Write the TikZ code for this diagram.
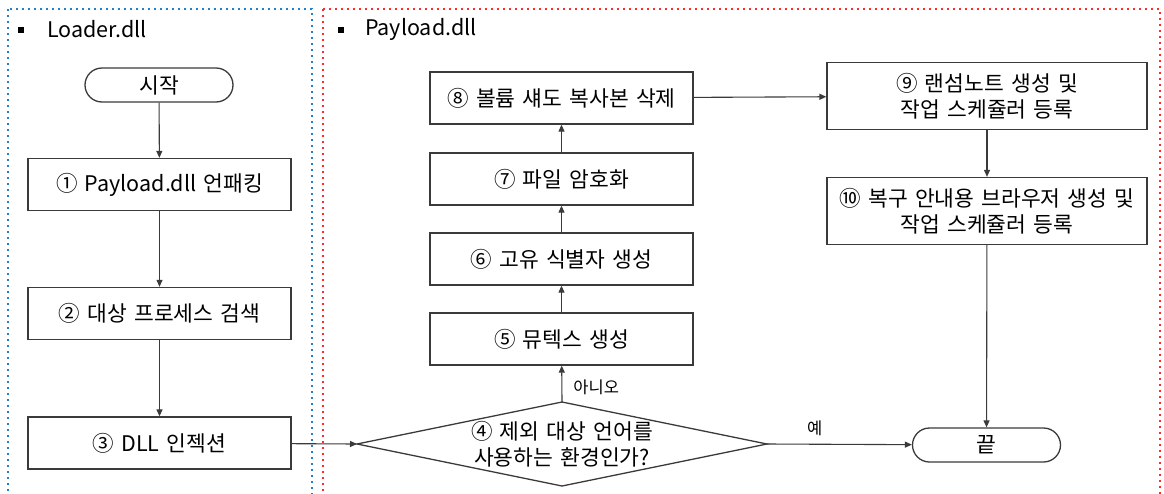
\documentclass[tikz,border=0pt]{standalone}
\usepackage{fontspec}
\setmainfont[WordSpace=1.5]{Noto Sans CJK KR}
\usetikzlibrary{arrows.meta,shapes.misc}
\definecolor{linec}{HTML}{3A3A3A}
\definecolor{dotblue}{HTML}{2080D0}
\definecolor{dotred}{HTML}{FF2A2A}
\begin{document}
\begin{tikzpicture}[x=1pt,y=-1pt,
  stepbox/.style={draw=linec, line width=1.3pt, minimum width=263pt, minimum height=52pt, inner sep=0pt, align=center, font=\fontsize{21.5}{26}\selectfont},
  widebox/.style={stepbox, minimum width=320pt, minimum height=67pt},
  term/.style={rounded rectangle, draw=linec, line width=1.3pt, minimum width=148pt, minimum height=34pt, inner sep=0pt, font=\fontsize{21.5}{26}\selectfont},
  decision/.style={draw=linec, line width=1.3pt},
  dtext/.style={align=center, inner sep=0pt, font=\fontsize{21.5}{26}\selectfont},
  flow/.style={draw=linec, line width=1.1pt, -{Triangle[length=7pt,width=6pt]}},
  lbl/.style={font=\fontsize{16.5}{20}\selectfont, inner sep=0pt},
  header/.style={font=\fontsize{21.5}{26}\selectfont, anchor=west, inner sep=0pt},
  bullet/.style={fill=black, minimum size=6pt, inner sep=0pt},
  dotline/.style={line width=2pt, dash pattern=on 2pt off 4pt}
]
\useasboundingbox (0,0) rectangle (1164,493);
% dotted regions
\draw[dotblue, dotline] (8,9) rectangle (312,505);
\draw[dotred, dotline] (323,9) rectangle (1160,505);
% headers
\node[bullet] (b1) at (21,30) {};
\node[header] (h1) at (47,29) {Loader.dll};
\node[bullet] (b2) at (341,30) {};
\node[header] (h2) at (365,29) {Payload.dll};
% loader column
\node[term] (start) at (159,85) {시작};
\node[stepbox] (s1) at (159.5,184.5) {① Payload.dll 언패킹};
\node[stepbox] (s2) at (159.5,313.5) {② 대상 프로세스 검색};
\node[stepbox] (s3) at (159.5,443) {③ DLL 인젝션};
% decision diamond
\coordinate (d-w) at (357,444);
\coordinate (d-n) at (562,402);
\coordinate (d-e) at (767,444);
\coordinate (d-s) at (562,486);
\draw[decision] (d-w) -- (d-n) -- (d-e) -- (d-s) -- cycle;
\node[dtext] (s4) at (562,444) {④ 제외 대상 언어를\\사용하는 환경인가?};
% payload
\node[stepbox] (s5) at (561.5,339) {⑤ 뮤텍스 생성};
\node[stepbox] (s6) at (561.5,259) {⑥ 고유 식별자 생성};
\node[stepbox] (s7) at (561.5,179) {⑦ 파일 암호화};
\node[stepbox] (s8) at (561.5,98) {⑧ 볼륨 섀도 복사본 삭제};
\node[widebox] (s9) at (987,96) {⑨ 랜섬노트 생성 및\\작업 스케쥴러 등록};
\node[widebox] (s10) at (987,211) {⑩ 복구 안내용 브라우저 생성 및\\작업 스케쥴러 등록};
\node[term] (end) at (986.5,445) {끝};
% connectors
\draw[flow] (start) -- (s1);
\draw[flow] (s1) -- (s2);
\draw[flow] (s2) -- (s3);
\draw[flow] (s3) -- (d-w);
\draw[flow] (d-n) -- node[lbl, pos=0.4, right=11pt] (no) {아니오} (s5);
\draw[flow] (s5) -- (s6);
\draw[flow] (s6) -- (s7);
\draw[flow] (s7) -- (s8);
\draw[flow] (s8) -- (s9);
\draw[flow] (s9) -- (s10);
\draw[flow] (s10) -- (end);
\draw[flow] (d-e) -- node[lbl, pos=0.33, above=8pt] (yes) {예} (end);
\end{tikzpicture}
\end{document}
